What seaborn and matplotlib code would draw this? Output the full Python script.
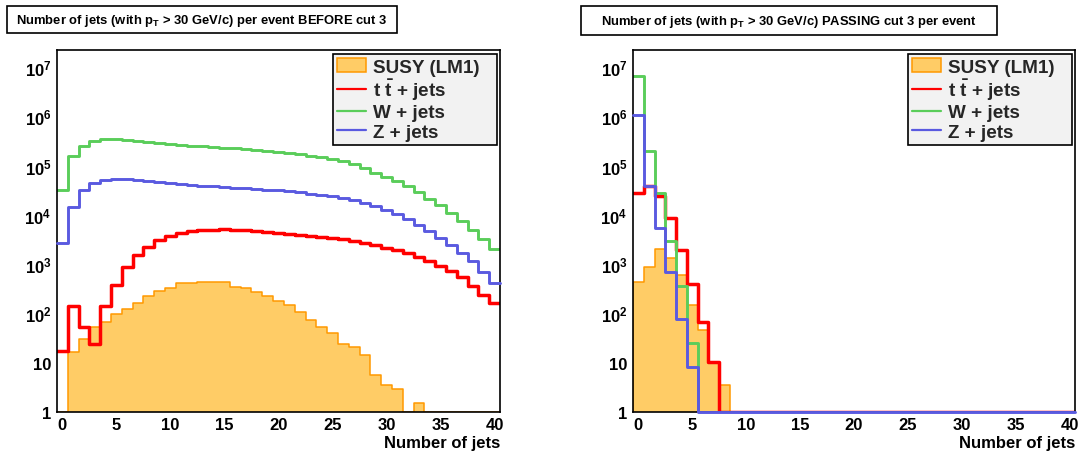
import numpy as np
import pandas as pd
import matplotlib
matplotlib.use("Agg")
import matplotlib.pyplot as plt
from matplotlib.patches import Rectangle, Patch
from matplotlib.lines import Line2D
from matplotlib.ticker import (FixedLocator, FixedFormatter, LogLocator,
                               MultipleLocator, NullFormatter)
import seaborn as sns

# ---------------------------------------------------------------- data
n_jets = list(range(41))

# jet multiplicity before cut 3
susy_before = [0, 16.6, 30.9, 53.7, 66.1, 95.5, 123, 166, 229, 282,
               331, 407, 417, 437, 437, 437, 339, 331, 269, 224,
               178, 151, 105, 74.1, 53.7, 40.7, 23.4, 20.4, 14.1, 5.5,
               3.5, 2.95, 0, 1.5, 0, 0, 0, 0, 0, 0, 0]
ttbar_before = [17.4, 138, 53.7, 23.4, 141, 372, 891, 1510, 2240, 3090,
                3800, 4370, 4790, 5010, 5010, 5130, 5010, 4900, 4790, 4570,
                4370, 4170, 3980, 3800, 3550, 3390, 3160, 2950, 2630, 2400,
                2140, 1910, 1660, 1380, 1150, 912, 708, 537, 355, 240, 166]
wjets_before = [31600, 158000, 245000, 309000, 339000, 339000, 324000, 309000, 295000, 282000,
                269000, 263000, 251000, 245000, 234000, 229000, 224000, 214000, 209000, 200000,
                191000, 182000, 170000, 158000, 148000, 138000, 123000, 107000, 89100, 70800,
                58900, 47900, 38000, 28800, 20900, 15500, 11000, 7410, 4900, 3160, 2000]
zjets_before = [2630, 14500, 31600, 43700, 50100, 52500, 52500, 50100, 47900, 45700,
                43700, 41700, 40700, 38900, 38000, 37200, 35500, 34700, 33900, 32400,
                31600, 30900, 28800, 26900, 25700, 24000, 21900, 19500, 17400, 15100,
                12600, 10200, 8130, 6170, 4680, 3390, 2400, 1660, 1150, 692, 417]

# jet multiplicity for events passing cut 3
susy_passing = [440, 890, 2000, 1350, 590, 150, 46, 10, 3.5, 0,
                0, 0, 0, 0, 0, 0, 0, 0, 0, 0,
                0, 0, 0, 0, 0, 0, 0, 0, 0, 0,
                0, 0, 0, 0, 0, 0, 0, 0, 0, 0, 0]
ttbar_passing = [28200, 38900, 24000, 8500, 1950, 400, 66, 10.5, 0, 0,
                 0, 0, 0, 0, 0, 0, 0, 0, 0, 0,
                 0, 0, 0, 0, 0, 0, 0, 0, 0, 0,
                 0, 0, 0, 0, 0, 0, 0, 0, 0, 0, 0]
wjets_passing = [6600000, 195000, 27500, 3000, 355, 25, 0, 0, 0, 0,
                 0, 0, 0, 0, 0, 0, 0, 0, 0, 0,
                 0, 0, 0, 0, 0, 0, 0, 0, 0, 0,
                 0, 0, 0, 0, 0, 0, 0, 0, 0, 0, 0]
zjets_passing = [1050000, 38000, 5400, 676, 76, 8.1, 0, 0, 0, 0,
                 0, 0, 0, 0, 0, 0, 0, 0, 0, 0,
                 0, 0, 0, 0, 0, 0, 0, 0, 0, 0,
                 0, 0, 0, 0, 0, 0, 0, 0, 0, 0, 0]

titles = [r"Number of jets (with $p_{T}$ > 30 GeV/c) per event BEFORE cut 3",
          r"Number of jets (with $p_{T}$ > 30 GeV/c) PASSING cut 3 per event"]
sample_labels = ["SUSY (LM1)", r"$t\ \bar{t}$ + jets", "W + jets", "Z + jets"]
x_label = "Number of jets"
y_decades = [1, 10, 100, 1e3, 1e4, 1e5, 1e6, 1e7]
y_tick_labels = ["1", "10", r"$10^{2}$", r"$10^{3}$", r"$10^{4}$",
                 r"$10^{5}$", r"$10^{6}$", r"$10^{7}$"]

# ---------------------------------------------------------------- style
sns.set_theme(style="white")
plt.rcParams["font.family"] = ["Liberation Sans", "DejaVu Sans"]
plt.rcParams["font.weight"] = "bold"
plt.rcParams["mathtext.fontset"] = "custom"
plt.rcParams["mathtext.rm"] = "Liberation Sans:bold"
plt.rcParams["mathtext.it"] = "Liberation Sans:bold"
plt.rcParams["mathtext.bf"] = "Liberation Sans:bold"
plt.rcParams["mathtext.default"] = "bf"

SUSY_FILL = "#ffcc66"
SUSY_EDGE = "#ff9900"
TT_COLOR = "#ff0000"
W_COLOR = "#5acd5a"
Z_COLOR = "#5a5ae0"

W_PX, H_PX = 1079, 452
fig = plt.figure(figsize=(W_PX / 100, H_PX / 100), dpi=100)
fig.patch.set_facecolor("white")

ax_left = fig.add_axes([57 / W_PX, 39 / H_PX, 443 / W_PX, 362 / H_PX])
ax_right = fig.add_axes([633 / W_PX, 39 / H_PX, 442 / W_PX, 362 / H_PX])

# one bin per jet multiplicity, -0.5 .. 40.5
bin_edges = [k - 0.5 for k in range(42)]
y_floor = 1.0  # empty bins sit on the bottom of the log axis


def hist_frame(vals):
    return pd.DataFrame({"njets": n_jets,
                         "events": np.clip(np.asarray(vals, float), y_floor, None)})


def draw_panel(ax, susy, ttbar, wjets, zjets):
    sns.histplot(data=hist_frame(susy), x="njets", weights="events", bins=bin_edges,
                 element="step", fill=True, facecolor=SUSY_FILL,
                 edgecolor=SUSY_EDGE, linewidth=1.1, alpha=1, ax=ax, zorder=1)
    for vals, col, lw, z, clip in [(ttbar, TT_COLOR, 2.5, 2, True),
                                   (wjets, W_COLOR, 2.1, 3, True),
                                   (zjets, Z_COLOR, 2.1, 7, False)]:
        sns.histplot(data=hist_frame(vals), x="njets", weights="events", bins=bin_edges,
                     element="step", fill=False, color=col, linewidth=lw,
                     ax=ax, zorder=z, clip_on=clip)

    ax.set_yscale("log")
    ax.set_xlim(-0.5, 40.5)
    ax.set_ylim(1, 2.2e7)
    ax.yaxis.set_major_locator(FixedLocator(y_decades))
    ax.yaxis.set_major_formatter(FixedFormatter(y_tick_labels))
    ax.yaxis.set_minor_locator(LogLocator(base=10, subs=np.arange(2, 10), numticks=30))
    ax.yaxis.set_minor_formatter(NullFormatter())
    ax.xaxis.set_major_locator(MultipleLocator(5))
    ax.xaxis.set_minor_locator(MultipleLocator(1))

    ax.tick_params(axis="both", which="both", direction="in", top=False,
                   right=False, colors="black", width=0.9)
    ax.tick_params(axis="x", which="major", length=8, pad=3.5, labelsize=12)
    ax.tick_params(axis="x", which="minor", length=4)
    ax.tick_params(axis="y", which="major", length=9, pad=4, labelsize=12)
    ax.tick_params(axis="y", which="minor", length=4.5)
    for lab in ax.get_xticklabels() + ax.get_yticklabels():
        lab.set_fontweight("bold")

    for sp in ax.spines.values():
        sp.set_color("black")
        sp.set_linewidth(1.2)
        sp.set_zorder(6)

    ax.set_ylabel("")
    ax.set_xlabel(x_label, loc="right", fontsize=12, fontweight="bold",
                  labelpad=2, color="black")

    handles = [Patch(facecolor=SUSY_FILL, edgecolor=SUSY_EDGE, linewidth=1.1),
               Line2D([], [], color=TT_COLOR, lw=1.6),
               Line2D([], [], color=W_COLOR, lw=1.6),
               Line2D([], [], color=Z_COLOR, lw=1.6)]
    leg = ax.legend(handles, sample_labels, loc="upper left", mode="expand",
                    bbox_to_anchor=(0.623, 0.75, 0.370, 0.239), frameon=True,
                    fancybox=False, framealpha=1, facecolor="#f2f2f2",
                    edgecolor="black", prop={"weight": "bold", "size": 13.6},
                    borderpad=0.2, labelspacing=0.08, handlelength=1.55,
                    handleheight=0.8, handletextpad=0.35, borderaxespad=0)
    leg.get_frame().set_linewidth(1.2)
    leg.set_zorder(10)


draw_panel(ax_left, susy_before, ttbar_before, wjets_before, zjets_before)
draw_panel(ax_right, susy_passing, ttbar_passing, wjets_passing, zjets_passing)

# title panes above each frame
title_boxes = [(7, 7, 390, 27), (581, 7, 416, 29)]
for (bx, by, bw, bh), title in zip(title_boxes, titles):
    fig.add_artist(Rectangle((bx / W_PX, 1 - (by + bh) / H_PX), bw / W_PX, bh / H_PX,
                             transform=fig.transFigure, facecolor="white",
                             edgecolor="black", linewidth=1.2))
    fig.text((bx + bw / 2) / W_PX, 1 - (by + bh / 2 + 0.5) / H_PX, title,
             ha="center", va="center", fontsize=9.4, fontweight="bold",
             color="black")

fig.savefig("out.png", dpi=100)
